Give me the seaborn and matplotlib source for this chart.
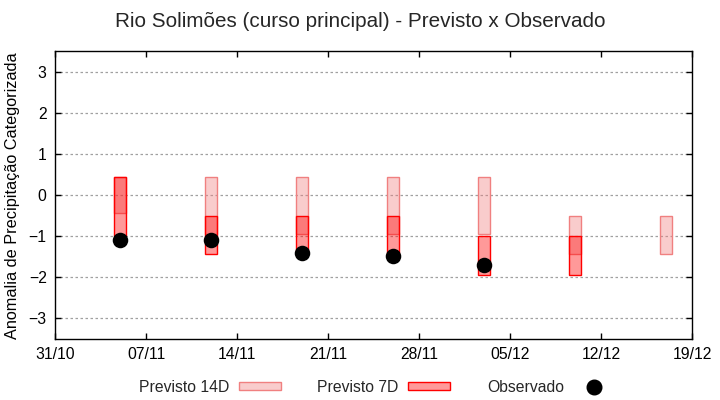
import matplotlib
matplotlib.use("Agg")
import matplotlib.pyplot as plt
import matplotlib.dates as mdates
import pandas as pd
import seaborn as sns
from matplotlib.patches import Patch
from matplotlib.lines import Line2D

# forecast 14 days (light bars)
dates_14d = pd.to_datetime(["2023-11-05", "2023-11-12", "2023-11-19", "2023-11-26",
                            "2023-12-03", "2023-12-10", "2023-12-17"])
top_14d = [0.43, 0.43, 0.43, 0.43, 0.43, -0.52, -0.52]
bottom_14d = [-0.45, -0.95, -0.95, -0.95, -0.95, -1.44, -1.44]

# forecast 7 days
dates_7d = pd.to_datetime(["2023-11-05", "2023-11-12", "2023-11-19", "2023-11-26",
                           "2023-12-03", "2023-12-10"])
top_7d = [0.43, -0.52, -0.52, -0.52, -1.0, -1.0]
bottom_7d = [-1.0, -1.44, -1.44, -1.44, -1.95, -1.95]

# observed
dates_obs = pd.to_datetime(["2023-11-05", "2023-11-12", "2023-11-19", "2023-11-26", "2023-12-03"])
obs = [-1.1, -1.1, -1.42, -1.5, -1.71]

tick_dates = pd.date_range("2023-10-31", "2023-12-19", freq="7D")
y_ticks = [-3, -2, -1, 0, 1, 2, 3]

sns.set_theme(style="white")
plt.rcParams["font.family"] = ["Liberation Sans", "DejaVu Sans"]

fs = 11.3

fig = plt.figure(figsize=(7.2, 4.0), dpi=100)
ax = fig.add_axes([55 / 720, 1 - 338.5 / 400, (692 - 55) / 720, (338.5 - 51.5) / 400])

light_face = (0.94, 0.5, 0.5, 0.4)
light_edge = "#f08080"
red_face = (1.0, 0.0, 0.0, 0.4)

ax.bar(dates_14d, [t - b for t, b in zip(top_14d, bottom_14d)], bottom=bottom_14d,
       width=0.9, color=light_face, edgecolor=light_edge, linewidth=1.0, zorder=2)
ax.bar(dates_7d, [t - b for t, b in zip(top_7d, bottom_7d)], bottom=bottom_7d,
       width=0.9, color=red_face, edgecolor="red", linewidth=1.0, zorder=3)

obs_df = pd.DataFrame({"data": dates_obs, "anomalia": obs})
sns.scatterplot(data=obs_df, x="data", y="anomalia", ax=ax, color="black", s=125,
                edgecolor="black", linewidth=0, zorder=4, legend=False)

ax.set_xlim(tick_dates[0], tick_dates[-1])
ax.set_ylim(-3.5, 3.5)
ax.set_xticks(tick_dates)
ax.xaxis.set_major_formatter(mdates.DateFormatter("%d/%m"))
ax.set_yticks(y_ticks)
ax.set_xlabel("")
ax.set_ylabel("Anomalia de Precipitação Categorizada", fontsize=11.7, color="black")
ax.yaxis.set_label_coords(-0.055, 0.497)

ax.grid(axis="y", color="#a0a0a0", linestyle=(0, (2, 2)), linewidth=0.9)
ax.grid(axis="x", visible=False)
for s in ax.spines.values():
    s.set_color("black")
    s.set_linewidth(1.0)
ax.tick_params(axis="both", direction="in", length=4, width=1.0, colors="black",
               labelsize=fs, right=True, top=True, left=True, bottom=True)
ax.tick_params(axis="x", pad=6)
ax.tick_params(axis="y", pad=6)

fig.suptitle("Rio Solimões (curso principal) - Previsto x Observado", fontsize=14.9, y=0.97)

handles = [
    Patch(facecolor=light_face, edgecolor=light_edge, linewidth=1.0),
    Patch(facecolor=red_face, edgecolor="red", linewidth=1.0),
    Line2D([], [], marker="o", color="black", linestyle="none", markersize=10.5),
]
fig.legend(handles, ["Previsto 14D", "Previsto 7D", "Observado"], loc="center",
           bbox_to_anchor=(377 / 720, 1 - 387 / 400), ncol=3, frameon=False,
           markerfirst=False, fontsize=fs, handlelength=2.65, handleheight=0.45,
           handletextpad=0.6, columnspacing=2.35)

fig.savefig("out.png", dpi=100)
